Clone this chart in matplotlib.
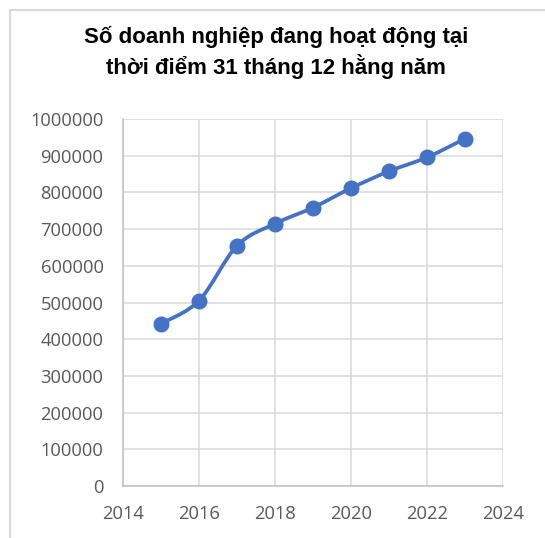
import numpy as np
import matplotlib
matplotlib.use("Agg")
import matplotlib.pyplot as plt
from matplotlib.patches import Rectangle
from matplotlib.path import Path
from matplotlib.patches import PathPatch

years = [2015, 2016, 2017, 2018, 2019, 2020, 2021, 2022, 2023]
values = [442500, 505000, 654600, 714800, 758600, 811500, 857600, 895500, 946500]
title = "Số doanh nghiệp đang hoạt động tại\nthời điểm 31 tháng 12 hằng năm"
x_ticks = [2014, 2016, 2018, 2020, 2022, 2024]
y_ticks = list(range(0, 1000001, 100000))

W, H = 545, 538
fig = plt.figure(figsize=(W / 100, H / 100), dpi=100)
fig.patch.set_facecolor("white")

# outer chart frame
fig.patches.append(Rectangle((10 / W, -0.05), 1.2, 1 - 10 / H + 0.05,
                             transform=fig.transFigure, fill=False,
                             edgecolor="#d9d9d9", linewidth=1.5))

ax = fig.add_axes([123 / W, 1 - 486 / H, (503 - 123) / W, (486 - 119) / H])
ax.set_xlim(2014, 2024)
ax.set_ylim(0, 1000000)
ax.set_xticks(x_ticks)
ax.set_yticks(y_ticks)
ax.set_xticklabels([str(t) for t in x_ticks])
ax.set_yticklabels([str(t) for t in y_ticks])
ax.grid(True, color="#d9d9d9", linewidth=1.1)
ax.set_axisbelow(True)
for s in ["top", "right"]:
    ax.spines[s].set_visible(False)
for s in ["left", "bottom"]:
    ax.spines[s].set_color("#bfbfbf")
    ax.spines[s].set_linewidth(1.1)
ax.tick_params(length=0, pad=14, labelsize=13.2, labelcolor="#595959")
for lab in ax.get_xticklabels() + ax.get_yticklabels():
    lab.set_fontfamily("Open Sans")

# Excel-style smoothed line (cubic Bezier, control = P1 + (P2-P0)/6)
xs = np.array(years, dtype=float)
ys = np.array(values, dtype=float)
verts = [(xs[0], ys[0])]
codes = [Path.MOVETO]
n = len(xs)
for i in range(n - 1):
    p0 = np.array([xs[max(i - 1, 0)], ys[max(i - 1, 0)]])
    p1 = np.array([xs[i], ys[i]])
    p2 = np.array([xs[i + 1], ys[i + 1]])
    p3 = np.array([xs[min(i + 2, n - 1)], ys[min(i + 2, n - 1)]])
    c1 = p1 + (p2 - p0) / 6.0
    c2 = p2 - (p3 - p1) / 6.0
    verts += [tuple(c1), tuple(c2), tuple(p2)]
    codes += [Path.CURVE4] * 3
ax.add_patch(PathPatch(Path(verts, codes), fill=False, edgecolor="#4472C4",
                       linewidth=2.7, capstyle="round", joinstyle="round"))
ax.plot(years, values, linestyle="none", marker="o", markersize=10.5,
        color="#4472C4")

lines = title.split("\n")
fig.text(276 / W, 1 - 43 / H, lines[0], ha="center", va="baseline",
         fontsize=16, fontweight="bold", family="Liberation Sans", color="black")
fig.text(276 / W, 1 - 74 / H, lines[1], ha="center", va="baseline",
         fontsize=16, fontweight="bold", family="Liberation Sans", color="black")

fig.savefig("out.png", dpi=100)
